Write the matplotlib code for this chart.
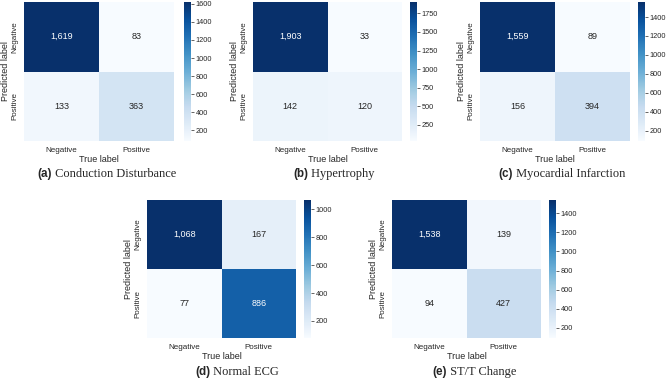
import matplotlib
matplotlib.use("Agg")
import matplotlib.pyplot as plt
import seaborn as sns
import numpy as np

sns.set_theme(style="white")
plt.rcParams["font.family"] = ["Liberation Sans", "DejaVu Sans"]

class_labels = ["Negative", "Positive"]

# confusion matrices: rows = predicted, cols = true
cm_conduction = [[1619, 83], [133, 363]]
cm_hypertrophy = [[1903, 33], [142, 120]]
cm_myocardial = [[1559, 89], [156, 394]]
cm_normal = [[1068, 167], [77, 886]]
cm_sttc = [[1538, 139], [94, 427]]

letters = ["(a)", "(b)", "(c)", "(d)", "(e)"]
titles = ["Conduction Disturbance", "Hypertrophy", "Myocardial Infarction",
          "Normal ECG", "ST/T Change"]
cbar_ticks = [
    [200, 400, 600, 800, 1000, 1200, 1400, 1600],
    [250, 500, 750, 1000, 1250, 1500, 1750],
    [200, 400, 600, 800, 1000, 1200, 1400],
    [200, 400, 600, 800, 1000],
    [200, 400, 600, 800, 1000, 1200, 1400],
]

W, H = 669, 384
fig = plt.figure(figsize=(W / 100, H / 100), dpi=100)

# pixel boxes: (heatmap left, right, top, bottom, colorbar left, caption center x, caption y)
boxes = [
    (24, 174, 2, 141, 184, 107, 174),
    (253, 402, 2, 141, 410, 334, 174),
    (480, 630, 2, 141, 638, 562, 174),
    (147, 296, 200, 338, 304, 237, 372),
    (392, 541, 200, 338, 549, 474, 372),
]

mats = [cm_conduction, cm_hypertrophy, cm_myocardial, cm_normal, cm_sttc]


def px(x0, x1, y0, y1):
    return [x0 / W, 1 - y1 / H, (x1 - x0) / W, (y1 - y0) / H]


fig.canvas.draw()
renderer = fig.canvas.get_renderer()

for i, cm in enumerate(mats):
    l, r, t, b, cl, cx, cy = boxes[i]
    ax = fig.add_axes(px(l, r, t, b))
    cax = fig.add_axes(px(cl, cl + 7, t, b))
    sns.heatmap(np.array(cm), annot=True, fmt=",d", cmap="Blues", ax=ax, cbar_ax=cax,
                xticklabels=class_labels, yticklabels=class_labels,
                annot_kws={"fontsize": 6.5})
    ax.set_xlabel("True label", fontsize=6.5, color="#262626", labelpad=1)
    ax.set_ylabel("Predicted label", fontsize=6.5, color="#262626", labelpad=1)
    ax.tick_params(axis="both", length=0, labelsize=5.8, colors="#262626", pad=4)
    ax.set_yticklabels(class_labels, rotation=90, va="center")
    cax.set_yticks(cbar_ticks[i])
    cax.tick_params(axis="y", length=2, width=0.5, labelsize=5.3, colors="#262626", pad=1.5)
    for s in cax.spines.values():
        s.set_visible(False)

    # caption: bold sans letter + serif title, centred together
    t1 = fig.text(0, 0, letters[i], fontsize=8.4, fontweight="bold",
                  family="Liberation Sans", va="center")
    t2 = fig.text(0, 0, " " + titles[i], fontsize=8.9, family="Liberation Serif",
                  va="center")
    w1 = t1.get_window_extent(renderer).width
    w2 = t2.get_window_extent(renderer).width
    x_start = cx - (w1 + w2) / 2
    t1.set_position((x_start / W, 1 - cy / H))
    t2.set_position(((x_start + w1) / W, 1 - cy / H))

fig.savefig("out.png", dpi=100)
